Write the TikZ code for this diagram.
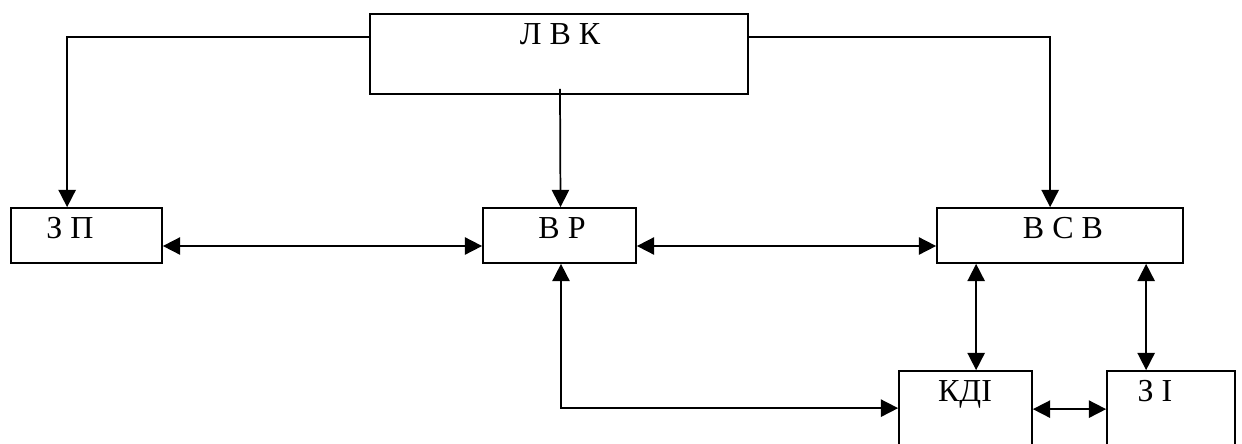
\documentclass[tikz,border=0pt]{standalone}
\usepackage{fontspec}
\setmainfont{Liberation Serif}
\usetikzlibrary{arrows.meta,calc}
\begin{document}
\begin{tikzpicture}[x=0.75pt,y=-0.75pt,
  box/.style={draw,line width=1.3pt,rectangle,inner sep=0pt},
  lbl/.style={anchor=base,inner sep=0pt,font=\fontsize{24}{28}\selectfont},
  conn/.style={line width=1.3pt},
  arr/.style={conn,-{Triangle[length=13pt,width=13pt]}},
  darr/.style={conn,{Triangle[length=13pt,width=13pt]}-{Triangle[length=13pt,width=13pt]}}]
\useasboundingbox (0,0) rectangle (1242,443);
\clip (0,0) rectangle (1242,443);
% boxes
\node[box,minimum width=378*0.75pt,minimum height=80*0.75pt] (lvk) at (559,54) {};
\node[box,minimum width=151*0.75pt,minimum height=55*0.75pt] (zp) at (86.5,235.5) {};
\node[box,minimum width=153*0.75pt,minimum height=55*0.75pt] (vr) at (559.5,235.5) {};
\node[box,minimum width=246*0.75pt,minimum height=55*0.75pt] (vsv) at (1060,235.5) {};
\node[box,minimum width=133*0.75pt,minimum height=140*0.75pt] (kdi) at (965.5,441) {};
\node[box,minimum width=128*0.75pt,minimum height=140*0.75pt] (zi) at (1171,441) {};
% labels
\node[lbl] (tlvk) at (560,44) {Л В К};
\node[lbl] (tzp) at (70,238) {З П};
\node[lbl] (tvr) at (562,238) {В Р};
\node[lbl] (tvsv) at (1063,238) {В С В};
\node[lbl] (tkdi) at (965,401) {КДІ};
\node[lbl] (tzi) at (1155,401) {З І};
% connectors
\draw[arr] ($(lvk.north west)+(0,24)$) -| ($(zp.north west)+(57,0)$);
\draw[arr] ($(lvk.north east)+(0,24)$) -| ($(vsv.north west)+(114,0)$);
\draw[arr] ($(lvk.south)+(1,-6)$) -- ($(vr.north)+(1,0)$);
\draw[darr] ($(zp.east)+(0,10.5)$) -- ($(vr.west)+(0,10.5)$);
\draw[darr] ($(vr.east)+(0,10.5)$) -- ($(vsv.west)+(0,10.5)$);
\draw[darr] ($(vsv.south west)+(40,0)$) -- ($(kdi.north west)+(78,0)$);
\draw[darr] ($(vsv.south west)+(210,0)$) -- ($(zi.north west)+(40,0)$);
\draw[darr] ($(kdi.north east)+(0,39)$) -- ($(zi.north west)+(0,39)$);
\draw[darr] ($(vr.south)+(1.5,0)$) |- ($(kdi.north west)+(0,38)$);
\end{tikzpicture}
\end{document}
